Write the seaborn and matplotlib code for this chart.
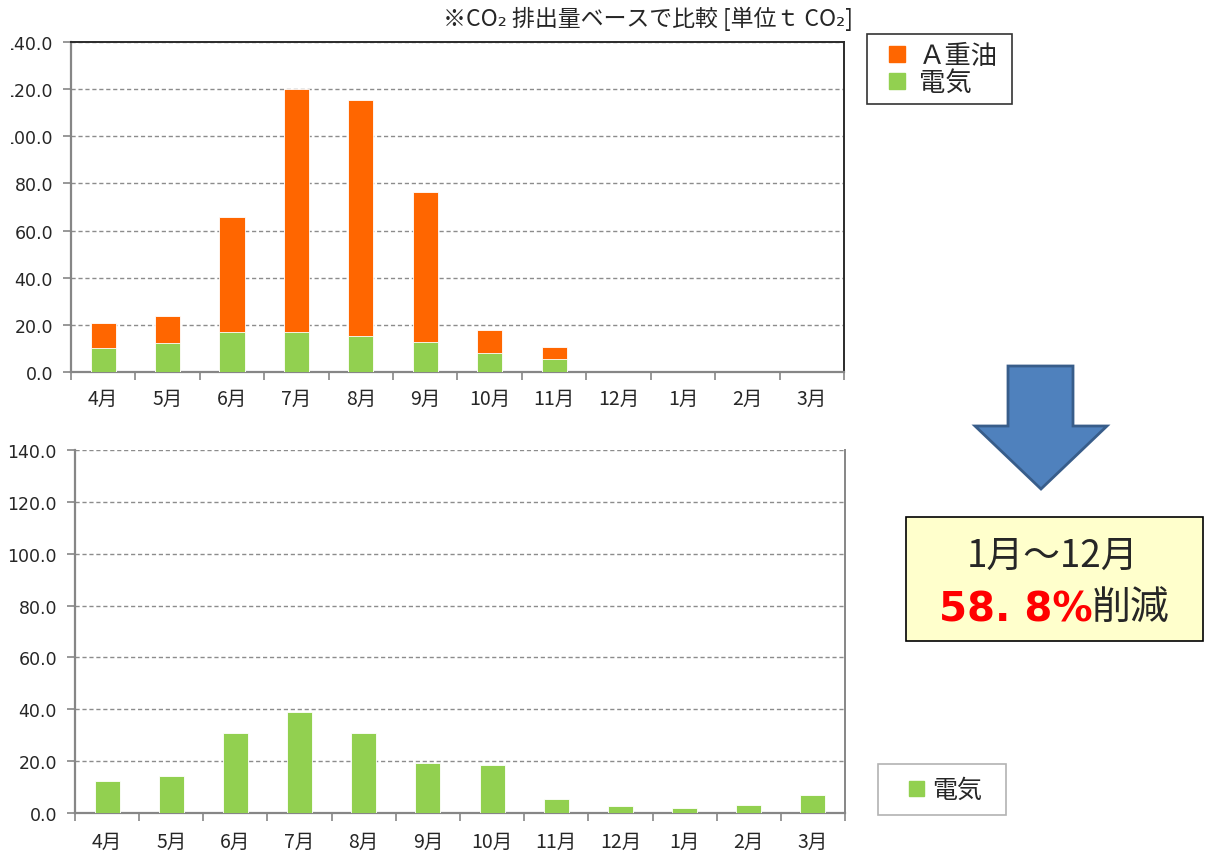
import numpy as np
import pandas as pd
import matplotlib
matplotlib.use("Agg")
import matplotlib.pyplot as plt
import seaborn as sns
from matplotlib.patches import Polygon, Rectangle
from matplotlib.lines import Line2D
from matplotlib.transforms import Bbox, TransformedBbox
from matplotlib.ticker import FixedLocator

# ---- data -------------------------------------------------------------
months = ["4月", "5月", "6月", "7月", "8月", "9月",
          "10月", "11月", "12月", "1月", "2月", "3月"]
nan = np.nan
# upper panel: heavy fuel oil A + electricity  [t-CO2]
oil_upper = [10.5, 11.5, 48.5, 102.9, 100.1, 63.8, 9.8, 5.0, nan, nan, nan, nan]
elec_upper = [10.3, 12.3, 17.1, 17.1, 15.3, 12.6, 8.2, 5.7, nan, nan, nan, nan]
# lower panel: electricity only  [t-CO2]
elec_lower = [12.3, 14.3, 31.0, 38.8, 30.7, 19.2, 18.5, 5.3, 2.7, 1.9, 3.0, 6.8]
y_ticks = [0, 20, 40, 60, 80, 100, 120, 140]

title_text = "※CO₂ 排出量ベースで比較 [単位ｔ CO₂]"
period_text = "1月～12月"
rate_text = "58. 8%"
rate_suffix = "削減"

ORANGE = "#FF6600"
GREEN = "#92D050"
GRID = "#8C8C8C"
AXIS = "#868686"

sns.set_style("white")
plt.rcParams["font.family"] = ["Noto Sans CJK JP", "DejaVu Sans"]
NUM_FONT = ["DejaVu Sans", "Noto Sans CJK JP"]

W, H = 1205, 854
fig = plt.figure(figsize=(W / 100, H / 100), dpi=100)


def fx(px):
    return px / W


def fy(py):
    return 1 - py / H


ax1 = fig.add_axes([fx(71), fy(373), fx(844) - fx(71), fy(43) - fy(373)])
ax2 = fig.add_axes([fx(75), fy(814), fx(845) - fx(75), fy(451) - fy(814)])

df_up = pd.DataFrame({"month": months, "oil": oil_upper, "elec": elec_upper})
df_up["total"] = df_up["oil"] + df_up["elec"]
df_lo = pd.DataFrame({"month": months, "elec": elec_lower})

bar_kw = dict(width=0.39, saturation=1, errorbar=None, order=months,
              edgecolor="white", linewidth=0.6, zorder=3)
sns.barplot(data=df_up, x="month", y="total", color=ORANGE, ax=ax1, **bar_kw)
sns.barplot(data=df_up, x="month", y="elec", color=GREEN, ax=ax1, **bar_kw)
sns.barplot(data=df_lo, x="month", y="elec", color=GREEN, ax=ax2, **bar_kw)


def style_axes(ax, label_pad_x, top_dark):
    ax.set_xlim(-0.5, 11.5)
    ax.set_ylim(0, 140)
    ax.set_xlabel("")
    ax.set_ylabel("")
    ax.set_yticks(y_ticks)
    ax.set_yticklabels([f"{v:.1f}" for v in y_ticks], fontsize=12.5,
                       family=NUM_FONT)
    ax.xaxis.set_minor_locator(FixedLocator(np.arange(-0.5, 12, 1)))
    ax.tick_params(axis="x", which="major", length=0, pad=label_pad_x,
                   labelsize=14)
    ax.tick_params(axis="x", which="minor", length=6, width=1.2,
                   color=AXIS, direction="out", bottom=True)
    ax.tick_params(axis="y", length=6, width=1.2, color=AXIS,
                   direction="out", pad=7, left=True)
    ax.yaxis.grid(True, color=GRID, linestyle=(0, (3, 2)), linewidth=1,
                  zorder=0)
    ax.xaxis.grid(False)
    ax.set_axisbelow(True)
    for side in ("left", "bottom"):
        ax.spines[side].set_color(AXIS)
        ax.spines[side].set_linewidth(1.6)
    if top_dark:
        ax.spines["top"].set_color("#2b2b2b")
        ax.spines["top"].set_linewidth(1.4)
        ax.spines["right"].set_color("#2b2b2b")
        ax.spines["right"].set_linewidth(1.4)
    else:
        ax.spines["top"].set_visible(False)
        ax.spines["right"].set_color(AXIS)
        ax.spines["right"].set_linewidth(1.4)


style_axes(ax1, 11.5, True)
style_axes(ax2, 13, False)

# the upper panel's numbers run off the left edge of the sheet
clip = TransformedBbox(Bbox.from_extents(fx(11), 0, 1, 1), fig.transFigure)
for lab in ax1.get_yticklabels():
    lab.set_clip_on(True)
    lab.set_clip_box(clip)


def square(color, size):
    return Line2D([], [], marker="s", linestyle="none", markersize=size,
                  markerfacecolor=color, markeredgecolor=color)


# legends
leg1 = ax1.legend(handles=[square(ORANGE, 11.5), square(GREEN, 11.5)],
                  labels=["Ａ重油", "電気"],
                  loc="upper left",
                  bbox_to_anchor=(fx(867), fy(102), fx(1012) - fx(867),
                                  fy(35) - fy(102)),
                  mode="expand",
                  bbox_transform=fig.transFigure, borderaxespad=0,
                  fontsize=19, handlelength=1.67, handletextpad=0.0,
                  labelspacing=0.0, borderpad=0.3,
                  fancybox=False, frameon=True)
leg1.get_frame().set_edgecolor("black")
leg1.get_frame().set_linewidth(1.2)

leg2 = ax2.legend(handles=[square(GREEN, 10.8)], labels=["電気"],
                  loc="upper left",
                  bbox_to_anchor=(fx(878), fy(813), fx(1006) - fx(878),
                                  fy(765) - fy(813)),
                  mode="expand",
                  bbox_transform=fig.transFigure, borderaxespad=0,
                  fontsize=18, handlelength=2.0, handletextpad=-0.34,
                  borderpad=0.5, fancybox=False, frameon=True)
leg2.get_frame().set_edgecolor("#A0A0A0")
leg2.get_frame().set_linewidth(1.2)

# heading
fig.text(fx(648), fy(19), title_text, ha="center", va="center", fontsize=16.5)

# down arrow
arrow_px = [(1008, 367), (1073, 367), (1073, 427), (1107, 427),
            (1041, 490), (975, 427), (1008, 427)]
fig.patches.append(Polygon([(fx(x), fy(y)) for x, y in arrow_px],
                           closed=True, transform=fig.transFigure,
                           facecolor="#4F81BD", edgecolor="#385D8A",
                           linewidth=2))

# result box
fig.patches.append(Rectangle((fx(906), fy(642)), fx(1203) - fx(906),
                             fy(518) - fy(642), transform=fig.transFigure,
                             facecolor="#FFFFCC", edgecolor="black",
                             linewidth=1.2))
fig.text(fx(1053), fy(556), period_text, ha="center", va="center",
         fontsize=26.5)
fig.text(fx(1093), fy(610), rate_text, ha="right", va="center",
         fontsize=29, fontweight="bold", color="#FF0000", family=NUM_FONT)
fig.text(fx(1092), fy(608), rate_suffix, ha="left", va="center",
         fontsize=28)

fig.savefig("out.png", dpi=100)
